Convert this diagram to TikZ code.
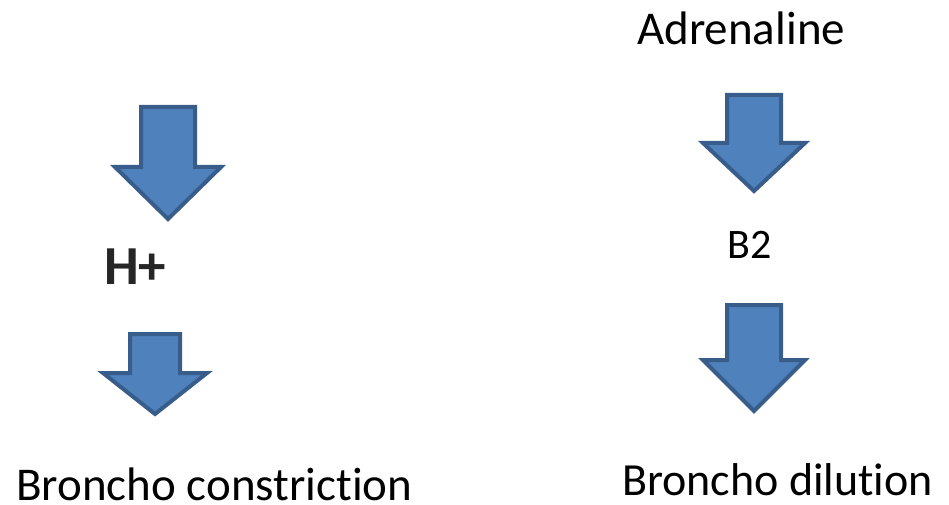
\documentclass[tikz,border=0pt]{standalone}
\usepackage{fontspec}
\setmainfont{Carlito}[Ligatures=NoCommon]
\definecolor{arrowfill}{HTML}{4F81BD}
\definecolor{arrowline}{HTML}{385D8A}
\tikzset{
  blockarrow/.style={fill=arrowfill, draw=arrowline, line width=4pt, line join=miter},
  label/.style={anchor=base west, inner sep=0pt, text=black}
}
% #1 centre x, #2 top, #3 half shaft, #4 head base, #5 half head, #6 tip
\newcommand{\downblock}[6]{%
  \draw[blockarrow] (#1-#3,#2) -- (#1+#3,#2) -- (#1+#3,#4) -- (#1+#5,#4)
    -- (#1,#6) -- (#1-#5,#4) -- (#1-#3,#4) -- cycle;}
\begin{document}
\begin{tikzpicture}[x=1pt,y=-1pt]
  \useasboundingbox (0,0) rectangle (949,505);
  % left column
  \downblock{168}{107}{27}{167}{53}{219}
  \node[label, font=\fontsize{55}{62}\selectfont\bfseries, text=black!85] (hplus) at (104,284) {H+};
  \downblock{155}{334}{25}{373}{52}{414}
  \node[label, font=\fontsize{47}{56}\selectfont] (constriction) at (16,500) {Broncho constriction};
  % right column
  \node[label, font=\fontsize{47}{56}\selectfont] (adrenaline) at (637,45) {Adrenaline};
  \downblock{754}{95}{27}{143}{51}{191}
  \node[label, font=\fontsize{42}{50}\selectfont] (btwo) at (727,258) {B2};
  \downblock{754}{305}{27}{360}{51}{411}
  \node[label, font=\fontsize{46}{55}\selectfont] (dilution) at (622,495) {Broncho dilution};
\end{tikzpicture}
\end{document}
